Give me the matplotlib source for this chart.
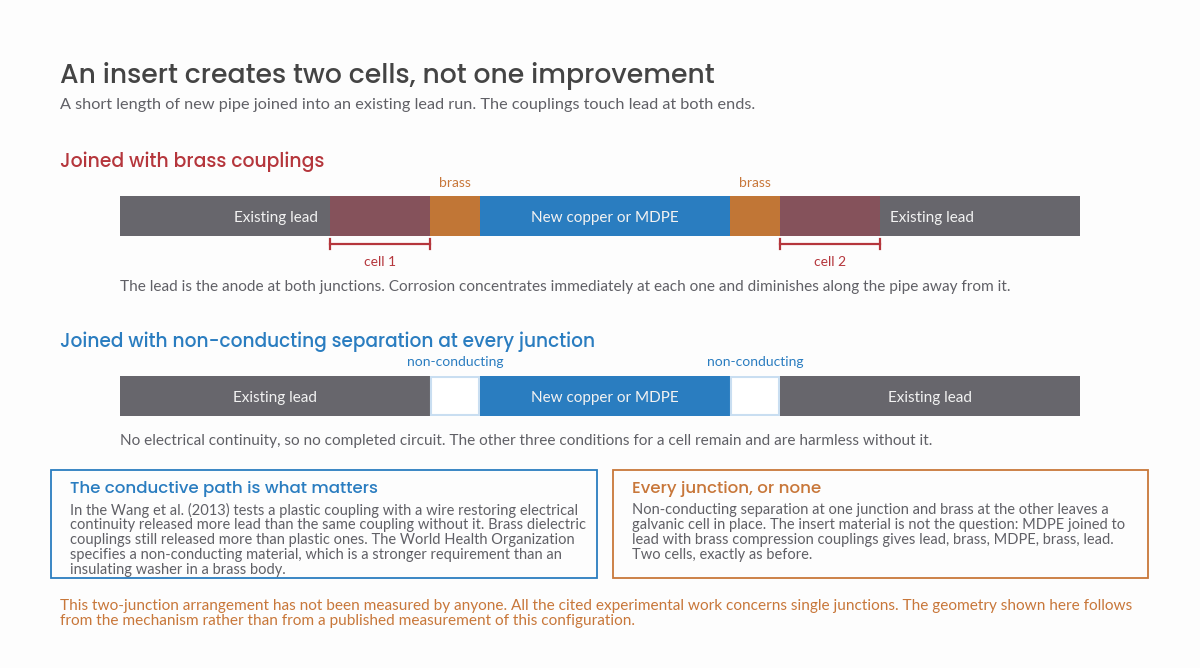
import matplotlib
matplotlib.use("Agg")
import matplotlib.pyplot as plt
from matplotlib.patches import Rectangle

# colours
LEAD = "#67666c"
CELL = "#85525b"
BRASS = "#c17636"
NEW = "#2a7dc0"
RED = "#b5363c"
ORANGE = "#c8773a"
GREY = "#606066"
DARK = "#444444"

# pipe segments, in lengths along the pipe
brass_labels = ["Existing lead", "", "", "New copper or MDPE", "", "", "Existing lead"]
brass_lengths = [21, 10, 5, 25, 5, 10, 20]
brass_kinds = ["lead", "cell", "brass", "new", "brass", "cell", "lead"]

iso_labels = ["Existing lead", "", "New copper or MDPE", "", "Existing lead"]
iso_lengths = [31, 5, 25, 5, 30]
iso_kinds = ["lead", "nc", "new", "nc", "lead"]

fill = {"lead": LEAD, "cell": CELL, "brass": BRASS, "new": NEW, "nc": "white"}

TITLE = "An insert creates two cells, not one improvement"
SUBTITLE = ("A short length of new pipe joined into an existing lead run. "
            "The couplings touch lead at both ends.")
SEC1 = "Joined with brass couplings"
SEC2 = "Joined with non-conducting separation at every junction"
CAP1 = ("The lead is the anode at both junctions. Corrosion concentrates immediately "
        "at each one and diminishes along the pipe away from it.")
CAP2 = ("No electrical continuity, so no completed circuit. The other three conditions "
        "for a cell remain and are harmless without it.")
BOX1_T = "The conductive path is what matters"
BOX1 = ["In the Wang et al. (2013) tests a plastic coupling with a wire restoring electrical",
        "continuity released more lead than the same coupling without it. Brass dielectric",
        "couplings still released more than plastic ones. The World Health Organization",
        "specifies a non-conducting material, which is a stronger requirement than an",
        "insulating washer in a brass body."]
BOX2_T = "Every junction, or none"
BOX2 = ["Non-conducting separation at one junction and brass at the other leaves a",
        "galvanic cell in place. The insert material is not the question: MDPE joined to",
        "lead with brass compression couplings gives lead, brass, MDPE, brass, lead.",
        "Two cells, exactly as before."]
FOOT = ["This two-junction arrangement has not been measured by anyone. All the cited "
        "experimental work concerns single junctions. The geometry shown here follows",
        "from the mechanism rather than from a published measurement of this configuration."]

HEAD = ["Poppins", "Open Sans", "DejaVu Sans"]
BODY = ["Lato", "DejaVu Sans"]

W, H = 1200, 668
fig = plt.figure(figsize=(12, 6.68), dpi=100)
fig.patch.set_facecolor("#fdfdfd")
ax = fig.add_axes([0, 0, 1, 1])
ax.set_xlim(0, W)
ax.set_ylim(H, 0)
ax.axis("off")

ax.text(60, 76, TITLE, fontsize=19.2, family=HEAD, weight="medium", color=DARK, va="center")
ax.text(60, 105, SUBTITLE, fontsize=11.7, family=BODY, color=GREY, va="center")
ax.text(60, 162, SEC1, fontsize=13.5, family=HEAD, weight="medium", color=RED, va="center")
ax.text(60, 342, SEC2, fontsize=13.4, family=HEAD, weight="medium", color=NEW, va="center")
ax.text(120, 287, CAP1, fontsize=11.05, family=BODY, color=GREY, va="center")
ax.text(120, 441, CAP2, fontsize=11.05, family=BODY, color=GREY, va="center")


def pipe_axes(top):
    a = fig.add_axes([120 / W, 1 - (top + 40) / H, 960 / W, 40 / H])
    a.set_xlim(0, 96)
    a.set_ylim(0, 1)
    a.axis("off")
    return a


# brass pipe
pa = pipe_axes(196)
left = 0
starts = []
for w in brass_lengths:
    starts.append(left)
    left += w
for i, (w, k) in enumerate(zip(brass_lengths, brass_kinds)):
    pa.barh(0.5, w, left=starts[i], height=1, color=fill[k], linewidth=0)
# labels for lead on the brass pipe: aligned next to the cell
pa.text(starts[0] + brass_lengths[0] - 1.2, 0.45, brass_labels[0], fontsize=11,
        family=BODY, color="#f2f2f2", ha="right", va="center")
pa.text(starts[6] + 1, 0.45, brass_labels[6], fontsize=11,
        family=BODY, color="#f2f2f2", ha="left", va="center")
pa.text(starts[3] + brass_lengths[3] / 2, 0.45, brass_labels[3], fontsize=11,
        family=BODY, color="#f2f2f2", ha="center", va="center")

# annotations above / below the pipes (same x scale)
aa = fig.add_axes([120 / W, 0, 960 / W, 1])
aa.set_xlim(0, 96)
aa.set_ylim(H, 0)
aa.axis("off")
ncell = 0
for i, k in enumerate(brass_kinds):
    mid = starts[i] + brass_lengths[i] / 2
    if k == "brass":
        aa.text(mid, 183, "brass", fontsize=10, family=BODY, color=ORANGE,
                ha="center", va="center")
    if k == "cell":
        ncell += 1
        x0, x1 = starts[i], starts[i] + brass_lengths[i]
        aa.plot([x0, x1], [244, 244], color=RED, lw=1.6)
        aa.plot([x0, x0], [239, 249], color=RED, lw=1.6)
        aa.plot([x1, x1], [239, 249], color=RED, lw=1.6)
        aa.text(mid, 262, f"cell {ncell}", fontsize=10, family=BODY, color=RED,
                ha="center", va="center")

# isolated pipe
pb = pipe_axes(376)
left = 0
for w, k, lab in zip(iso_lengths, iso_kinds, iso_labels):
    if k == "nc":
        pb.add_patch(Rectangle((left + 0.1, 0.03), w - 0.2, 0.94, facecolor="white",
                               edgecolor="#c9def1", linewidth=1.5))
        aa.text(left + w / 2, 362, "non-conducting", fontsize=10, family=BODY,
                color=NEW, ha="center", va="center")
    else:
        pb.barh(0.5, w, left=left, height=1, color=fill[k], linewidth=0)
        pb.text(left + w / 2, 0.45, lab, fontsize=11, family=BODY,
                color="#f2f2f2", ha="center", va="center")
    left += w

# boxes
for (x0, x1, col, title, lines) in [(51, 597, NEW, BOX1_T, BOX1),
                                    (613, 1148, ORANGE, BOX2_T, BOX2)]:
    ax.add_patch(Rectangle((x0, 470), x1 - x0, 108, facecolor="none",
                           edgecolor=col, linewidth=1.3))
    ax.text(x0 + 19, 489, title, fontsize=12, family=HEAD, weight="medium",
            color=col, va="center")
    for j, ln in enumerate(lines):
        ax.text(x0 + 19, 510 + 15 * j, ln, fontsize=10.5, family=BODY,
                color=GREY, va="center")

for j, ln in enumerate(FOOT):
    ax.text(60, 606 + 15 * j, ln, fontsize=11.05, family=BODY, color=ORANGE, va="center")

fig.savefig("out.png", dpi=100, facecolor=fig.get_facecolor())
